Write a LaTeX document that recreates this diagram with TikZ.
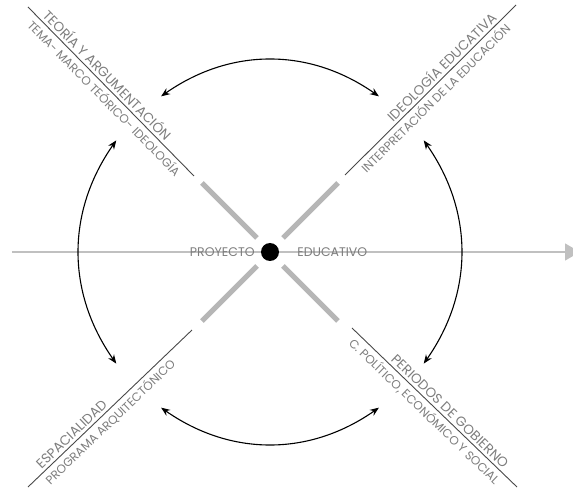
\documentclass[tikz,border=0pt]{standalone}
\usepackage{fontspec}
\setmainfont{Poppins}
\usetikzlibrary{arrows.meta,positioning}
\definecolor{axisgray}{RGB}{192,192,192}
\definecolor{bargray}{RGB}{182,182,182}
\definecolor{rulegray}{RGB}{72,72,72}
\definecolor{textgray}{RGB}{125,125,125}

\begin{document}
\begin{tikzpicture}[x=1pt,y=1pt,
    axis/.style={draw=axisgray,line width=1.3pt},
    bar/.style={draw=bargray,line width=5pt},
    rule/.style={draw=rulegray,line width=0.9pt},
    title/.style={font=\fontsize{13.5}{13.5}\selectfont,text=textgray,inner sep=2.8pt,sloped},
    subtitle/.style={font=\fontsize{12}{12}\selectfont,text=textgray,inner sep=2.8pt,sloped},
    cycle/.style={{Stealth[length=9pt,width=7pt]}-{Stealth[length=9pt,width=7pt]},line width=1.1pt,bend left=35}]
    \clip (-270,-240) rectangle (303,252);
    % axis through the centre
    \coordinate (w) at (-258,0);
    \coordinate (e) at (310,0);
    \draw[axis,-{Triangle[length=15pt,width=17pt]}] (w) -- (e);
    \node[circle,fill=black,minimum size=18pt,inner sep=0pt] (core) at (0,0) {};
    \node[text=textgray,font=\fontsize{12.5}{12.5}\selectfont,inner sep=0pt,left=6pt of core] (left) {PROYECTO};
    \node[text=textgray,font=\fontsize{12.5}{12.5}\selectfont,inner sep=0pt,right=18pt of core] (right) {EDUCATIVO};
    % grey bars
    \draw[bar] (-13,14) -- (-68,69);
    \draw[bar] (13,14) -- (68,69);
    \draw[bar] (-13,-14) -- (-68,-69);
    \draw[bar] (13,-14) -- (68,-69);
    % the four themes
    \coordinate (tl-a) at (-242,245);
    \coordinate (tl-b) at (-76,76);
    \coordinate (tr-a) at (75,77);
    \coordinate (tr-b) at (246,247);
    \coordinate (bl-a) at (-242,-235);
    \coordinate (bl-b) at (-78,-78);
    \coordinate (br-a) at (82,-76);
    \coordinate (br-b) at (247,-235);
    \draw[rule] (tl-a) -- (tl-b)
      node[title,above,pos=0.44] (tl-main) {TEORÍA Y ARGUMENTACIÓN}
      node[subtitle,below,pos=0.50] (tl-sub) {TEMA- MARCO TEÓRICO- IDEOLOGÍA};
    \draw[rule] (tr-a) -- (tr-b)
      node[title,above,pos=0.60] (tr-main) {IDEOLOGÍA EDUCATIVA}
      node[subtitle,below,pos=0.49] (tr-sub) {INTERPRETACIÓN DE LA EDUCACIÓN};
    \draw[rule] (bl-a) -- (bl-b)
      node[title,above,pos=0.30] (bl-main) {ESPACIALIDAD}
      node[subtitle,below,pos=0.46] (bl-sub) {PROGRAMA ARQUITECTÓNICO};
    \draw[rule] (br-a) -- (br-b)
      node[title,above,pos=0.56] (br-main) {PERIODOS DE GOBIERNO}
      node[subtitle,below,pos=0.48] (br-sub) {C. POLÍTICO, ECONÓMICO Y SOCIAL};
    % arrows between themes
    \coordinate (n1) at (125:190);
    \coordinate (n2) at (55:190);
    \coordinate (e1) at (36:190);
    \coordinate (e2) at (-36:190);
    \coordinate (s1) at (-55:190);
    \coordinate (s2) at (-125:190);
    \coordinate (w1) at (-144:190);
    \coordinate (w2) at (144:190);
    \draw[cycle] (n1) to (n2);
    \draw[cycle] (e1) to (e2);
    \draw[cycle] (s1) to (s2);
    \draw[cycle] (w1) to (w2);
  \end{tikzpicture}
\end{document}
